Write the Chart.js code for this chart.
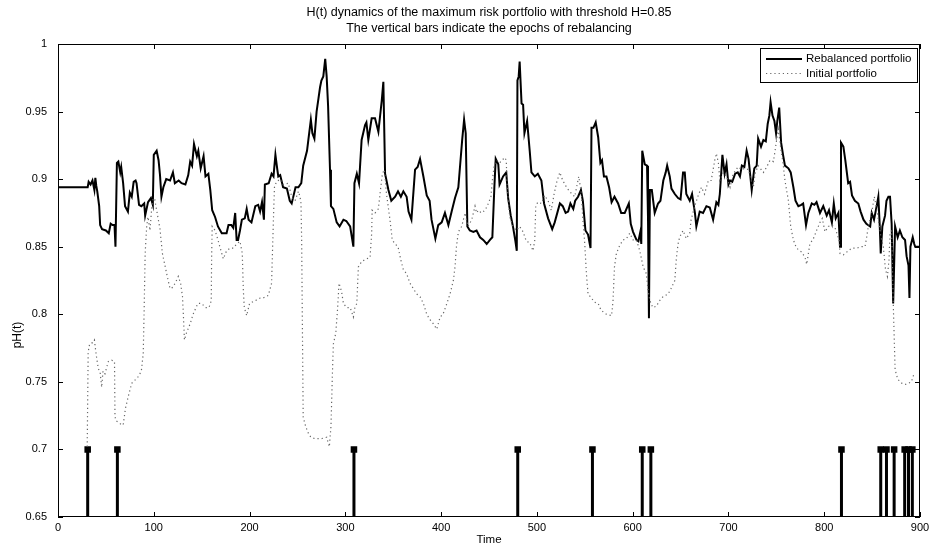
<!DOCTYPE html>
<html>
<head>
<meta charset="utf-8">
<script src="https://cdn.jsdelivr.net/npm/chart.js@4.4.1/dist/chart.umd.min.js"></script>
<style>
  html, body { margin: 0; padding: 0; background: #fff; }
  #wrap { width: 931px; height: 547px; }
</style>
</head>
<body>
<div id="wrap"><canvas id="hChart" width="931" height="547"></canvas></div>
<script>
const TITLE_LINES = [
  "H(t) dynamics of the maximum risk portfolio with threshold H=0.85",
  "The vertical bars indicate the epochs of rebalancing",
];
const SERIES_LABELS = ["Rebalanced portfolio", "Initial portfolio"];

const X_TICKS = [0, 100, 200, 300, 400, 500, 600, 700, 800, 900];
const Y_TICKS = [0.65, 0.7, 0.75, 0.8, 0.85, 0.9, 0.95, 1];

// rebalanced portfolio (solid)
const rebTime = [
  0, 31, 32, 34, 36, 38, 39, 40, 41, 43, 44, 46, 50, 53, 55, 57, 59, 60, 61.5, 63,
  65, 66, 68, 70, 73, 75, 77, 79, 81, 82, 84.6, 87, 90, 91, 94, 97, 99, 100, 103, 105,
  106.5, 108, 110, 113, 117, 120, 122, 126, 129, 133, 136, 138, 140, 142, 145, 146.5, 149, 152, 154, 157,
  159, 161, 164, 167, 171, 176, 178, 181, 183, 185, 186.5, 188, 190, 192, 195, 197, 199, 202, 206, 209,
  211, 213, 215, 216, 220, 223, 225, 227, 229, 230, 232, 235, 239, 242, 244, 246, 248, 251, 254, 256,
  260, 261.4, 264, 265.6, 267.7, 270, 272, 273.6, 275, 277, 279, 280.5, 282, 284, 285, 287.5, 291, 294, 298, 301,
  305, 308.4, 309.5, 312, 314.3, 317, 320.6, 322, 324, 327.5, 331, 334.5, 338, 339.7, 341.5, 345, 348, 352, 355, 358,
  360.6, 364, 366, 369, 372.8, 375.5, 378, 381.5, 385, 388, 390, 394, 397, 400.6, 404, 407.6, 411, 414.5, 418, 419.7,
  422, 424, 425.7, 427.4, 430, 433.7, 437, 440.6, 444, 447.6, 451, 453.5, 455.6, 457, 459.7, 461, 464.7, 468, 470, 472.7,
  475, 477.6, 479, 479.7, 481, 482, 484, 485.6, 487, 489.8, 492.5, 494.3, 497.8, 501, 504.7, 507.5, 511.7, 516, 518.6, 524,
  527, 530, 532.6, 535, 538, 540, 543, 546, 548, 550.7, 553.4, 556, 557, 559, 561.4, 564, 566.3, 568, 570, 572.6,
  575.4, 578, 581, 584.8, 588, 591.7, 596, 598, 600.4, 604, 606, 608, 609, 610, 612.6, 615, 616, 617, 618, 620,
  623, 626.5, 629, 632, 634.5, 636, 638.7, 640.5, 644, 647.4, 650, 652.6, 654.4, 656, 659.6, 662, 665, 666.5, 670, 673.5,
  677, 680.5, 684, 687.4, 689.5, 691, 693.7, 696, 698, 700, 701.7, 704, 707, 709.7, 712, 714, 716.6, 719, 721, 724.3,
  727, 729.5, 731, 734, 736.5, 739, 741, 742.7, 744, 746, 748, 749.7, 751, 753, 755, 757, 759, 762.6, 765, 767.8,
  770, 773, 776, 778, 781, 783.4, 787, 789.7, 792, 795.6, 799, 802.6, 805, 808, 810, 812, 814.8, 816.5, 817.5, 820,
  822, 825, 827, 829, 832, 835.6, 838, 841, 844, 848, 849.6, 852, 855, 856.5, 858, 859, 860.7, 863.5, 865, 867,
  868.7, 870.4, 872, 874, 876.7, 879, 881.6, 884.4, 886, 888, 889, 890, 892.4, 894, 895, 900,
];
const rebValue = [
  0.894, 0.894, 0.898, 0.896, 0.899, 0.892, 0.901, 0.895, 0.891, 0.88, 0.866, 0.863, 0.862, 0.86, 0.867, 0.866, 0.866, 0.85, 0.912, 0.913,
  0.905, 0.909, 0.897, 0.88, 0.876, 0.89, 0.887, 0.898, 0.899, 0.897, 0.881, 0.88, 0.882, 0.873, 0.883, 0.886, 0.881, 0.918, 0.921, 0.914,
  0.903, 0.887, 0.894, 0.9, 0.899, 0.905, 0.897, 0.899, 0.897, 0.896, 0.903, 0.913, 0.91, 0.926, 0.917, 0.921, 0.908, 0.917, 0.902, 0.904,
  0.892, 0.877, 0.872, 0.865, 0.86, 0.86, 0.866, 0.866, 0.864, 0.875, 0.855, 0.855, 0.862, 0.87, 0.871, 0.878, 0.87, 0.868, 0.88, 0.881,
  0.876, 0.883, 0.87, 0.896, 0.897, 0.904, 0.902, 0.918, 0.907, 0.902, 0.903, 0.894, 0.893, 0.884, 0.882, 0.888, 0.894, 0.894, 0.897, 0.91,
  0.921, 0.929, 0.944, 0.934, 0.93, 0.95, 0.96, 0.968, 0.973, 0.976, 0.989, 0.976, 0.954, 0.907, 0.88, 0.878, 0.868, 0.865, 0.87, 0.869,
  0.865, 0.85, 0.897, 0.904, 0.897, 0.929, 0.94, 0.942, 0.929, 0.945, 0.945, 0.935, 0.958, 0.972, 0.904, 0.892, 0.884, 0.887, 0.891, 0.887,
  0.891, 0.887, 0.876, 0.87, 0.907, 0.909, 0.915, 0.902, 0.888, 0.884, 0.87, 0.856, 0.866, 0.868, 0.875, 0.866, 0.876, 0.886, 0.894, 0.909,
  0.929, 0.944, 0.934, 0.865, 0.862, 0.861, 0.862, 0.857, 0.855, 0.852, 0.855, 0.857, 0.894, 0.915, 0.911, 0.896, 0.902, 0.905, 0.886, 0.873,
  0.865, 0.854, 0.847, 0.973, 0.976, 0.987, 0.956, 0.955, 0.934, 0.943, 0.921, 0.905, 0.902, 0.904, 0.899, 0.882, 0.871, 0.863, 0.868, 0.882,
  0.88, 0.875, 0.876, 0.882, 0.878, 0.884, 0.887, 0.892, 0.884, 0.862, 0.859, 0.849, 0.938, 0.938, 0.942, 0.931, 0.912, 0.914, 0.902, 0.902,
  0.894, 0.883, 0.887, 0.882, 0.875, 0.875, 0.882, 0.867, 0.861, 0.855, 0.854, 0.861, 0.852, 0.921, 0.911, 0.91, 0.872, 0.797, 0.892, 0.892,
  0.875, 0.882, 0.884, 0.899, 0.905, 0.91, 0.902, 0.893, 0.889, 0.886, 0.885, 0.905, 0.905, 0.889, 0.884, 0.889, 0.875, 0.865, 0.876, 0.875,
  0.88, 0.879, 0.87, 0.883, 0.881, 0.889, 0.918, 0.904, 0.911, 0.896, 0.899, 0.898, 0.904, 0.905, 0.902, 0.91, 0.909, 0.921, 0.915, 0.892,
  0.908, 0.91, 0.93, 0.924, 0.929, 0.928, 0.941, 0.947, 0.957, 0.947, 0.943, 0.934, 0.943, 0.953, 0.927, 0.918, 0.91, 0.908, 0.905, 0.894,
  0.884, 0.88, 0.881, 0.882, 0.866, 0.875, 0.882, 0.881, 0.883, 0.875, 0.88, 0.873, 0.877, 0.868, 0.882, 0.871, 0.875, 0.85, 0.927, 0.924,
  0.914, 0.897, 0.898, 0.888, 0.884, 0.882, 0.876, 0.87, 0.867, 0.865, 0.875, 0.87, 0.881, 0.887, 0.865, 0.845, 0.865, 0.873, 0.884, 0.887,
  0.887, 0.867, 0.808, 0.865, 0.857, 0.862, 0.857, 0.855, 0.843, 0.836, 0.812, 0.85, 0.857, 0.852, 0.85, 0.85,
];

// initial portfolio (dotted)
const initTime = [
  30.5, 31.5, 33, 36, 38, 39.7, 42, 44, 45.6, 47, 49, 52.5, 56, 59, 59.5, 61, 65, 68, 70.6, 74,
  77, 80, 84, 87, 89, 90, 91, 92.6, 94, 96, 98, 99.5, 101, 103, 106.5, 109, 112, 115, 117, 120,
  123, 125.6, 128, 130, 131, 132, 134, 138, 141, 146, 150, 154, 157.6, 160, 160.4, 161, 164, 167, 171, 172.6,
  176, 180, 183, 186.5, 190, 192.4, 193.5, 194.5, 197, 200, 205.7, 211, 214, 219.6, 223, 225, 226, 228, 230, 232,
  235, 240.5, 244, 247.5, 251, 252.7, 253.7, 254.4, 255, 256, 258.6, 261.4, 264, 268, 275, 280.5, 283.3, 285, 286.5, 287.5,
  290, 292, 293.4, 296, 298, 301.4, 305, 308.4, 310, 312, 313.6, 317, 322, 325.8, 327.5, 328, 331, 334.5, 337, 338.7,
  340.7, 343, 346.6, 349, 352, 355, 358, 360.6, 364, 367.5, 371, 374.5, 378, 381.5, 385, 388.4, 391.9, 395.4, 399, 402,
  406, 409.3, 412.8, 414.5, 416, 418, 421.5, 425, 428, 432, 435.4, 437, 439, 442, 446, 449.3, 452, 453.5, 455.6, 458,
  461, 466.4, 468, 469, 471.7, 475, 478.6, 482, 485.6, 489, 492.5, 496, 497.8, 498.8, 501, 504.7, 508, 511.7, 515, 518,
  520.4, 524, 527, 531, 534, 539.5, 543.7, 546.5, 548, 550, 551.7, 553.4, 557, 560, 564, 567, 572.6, 578, 579.5, 581,
  583, 586.5, 590, 593.5, 597, 600.4, 604, 607.4, 611, 614.3, 616, 618, 621, 624.8, 628, 631.7, 637, 640, 644, 645.7,
  647.4, 649, 652.6, 656, 659.6, 661, 664.8, 668, 671.8, 675, 679, 682, 685.7, 687.4, 689.5, 691, 694.7, 698, 701.7, 705,
  710, 714, 717, 721, 722.5, 726, 727.8, 731, 736.5, 740, 743.4, 747, 749.7, 752, 755, 757, 759, 762.6, 765, 767.8,
  771, 776.5, 780, 781.7, 785, 788.7, 792, 795.6, 798, 800.8, 804.3, 808, 811.3, 815.5, 816.5, 820, 823.5, 828.7, 834, 839,
  842.6, 844.3, 846, 849.6, 852.3, 854.8, 856.5, 859.3, 861.7, 864, 866, 867.6, 868.7, 870.4, 872, 874, 876.7, 881, 884.4, 888,
  891, 893.8,
];
const initValue = [
  0.702, 0.772, 0.778, 0.779, 0.781, 0.771, 0.76, 0.757, 0.746, 0.758, 0.756, 0.765, 0.766, 0.765, 0.724, 0.721, 0.719, 0.718, 0.731, 0.741,
  0.749, 0.751, 0.754, 0.758, 0.771, 0.805, 0.845, 0.865, 0.872, 0.862, 0.88, 0.886, 0.885, 0.877, 0.863, 0.845, 0.835, 0.825, 0.819, 0.82,
  0.824, 0.828, 0.823, 0.813, 0.798, 0.781, 0.786, 0.793, 0.8, 0.808, 0.808, 0.805, 0.805, 0.81, 0.842, 0.865, 0.862, 0.855, 0.845, 0.841,
  0.847, 0.849, 0.849, 0.852, 0.854, 0.845, 0.818, 0.805, 0.799, 0.808, 0.81, 0.812, 0.812, 0.814, 0.823, 0.872, 0.894, 0.898, 0.899, 0.9,
  0.896, 0.897, 0.887, 0.884, 0.891, 0.887, 0.882, 0.855, 0.805, 0.724, 0.717, 0.712, 0.709, 0.708, 0.708, 0.709, 0.702, 0.717, 0.756, 0.778,
  0.786, 0.805, 0.823, 0.817, 0.808, 0.805, 0.805, 0.798, 0.805, 0.808, 0.835, 0.839, 0.841, 0.842, 0.86, 0.877, 0.875, 0.878, 0.894, 0.904,
  0.907, 0.889, 0.87, 0.855, 0.852, 0.85, 0.84, 0.833, 0.83, 0.823, 0.819, 0.815, 0.813, 0.808, 0.8, 0.796, 0.793, 0.789, 0.798, 0.8,
  0.808, 0.815, 0.825, 0.835, 0.85, 0.861, 0.865, 0.875, 0.865, 0.87, 0.88, 0.875, 0.877, 0.875, 0.877, 0.882, 0.887, 0.899, 0.911, 0.914,
  0.912, 0.916, 0.914, 0.894, 0.872, 0.865, 0.862, 0.865, 0.861, 0.854, 0.853, 0.847, 0.855, 0.88, 0.883, 0.882, 0.888, 0.884, 0.877, 0.889,
  0.897, 0.905, 0.899, 0.894, 0.891, 0.887, 0.902, 0.889, 0.87, 0.852, 0.83, 0.815, 0.812, 0.809, 0.808, 0.803, 0.8, 0.799, 0.81, 0.835,
  0.845, 0.851, 0.855, 0.856, 0.86, 0.855, 0.855, 0.847, 0.835, 0.83, 0.818, 0.81, 0.805, 0.806, 0.81, 0.813, 0.815, 0.819, 0.825, 0.842,
  0.852, 0.857, 0.862, 0.856, 0.86, 0.87, 0.88, 0.887, 0.894, 0.889, 0.899, 0.899, 0.914, 0.919, 0.912, 0.899, 0.905, 0.902, 0.894, 0.904,
  0.909, 0.907, 0.908, 0.907, 0.902, 0.894, 0.904, 0.91, 0.905, 0.909, 0.914, 0.913, 0.926, 0.937, 0.921, 0.912, 0.899, 0.884, 0.865, 0.855,
  0.849, 0.846, 0.842, 0.837, 0.852, 0.856, 0.862, 0.868, 0.871, 0.861, 0.865, 0.866, 0.864, 0.855, 0.845, 0.844, 0.846, 0.849, 0.849, 0.85,
  0.85, 0.857, 0.865, 0.875, 0.887, 0.878, 0.87, 0.857, 0.85, 0.833, 0.828, 0.84, 0.86, 0.862, 0.81, 0.759, 0.752, 0.749, 0.748, 0.749,
  0.75, 0.756,
];

// rebalancing epochs, drawn as bars from BAR_LOW to BAR_HIGH
const rebalanceEpochs = [31, 62, 309, 480, 558, 610, 619, 818, 859, 865, 873, 884, 888, 892];
const BAR_LOW = 0.65;
const BAR_HIGH = 0.7;

function toPoints(xs, ys) {
  return xs.map((x, i) => ({ x: x, y: ys[i] }));
}

function barPoints() {
  const pts = [];
  rebalanceEpochs.forEach((t) => {
    pts.push({ x: t, y: BAR_LOW });
    pts.push({ x: t, y: BAR_HIGH });
    pts.push({ x: t, y: null });
  });
  return pts;
}

const FONT = "'Liberation Sans', Arial, Helvetica, sans-serif";

// box, inward ticks, titles and legend the matlab way
const matlabFramePlugin = {
  id: "matlabFrame",
  afterDraw(chart) {
    const { ctx, chartArea: a, scales } = chart;
    const tick = 5;
    ctx.save();
    ctx.strokeStyle = "#000";
    ctx.lineWidth = 1;
    ctx.strokeRect(a.left + 0.5, a.top + 0.5, a.right - a.left - 1, a.bottom - a.top - 1);

    ctx.beginPath();
    X_TICKS.forEach((v) => {
      const px = Math.round(scales.x.getPixelForValue(v)) + 0.5;
      ctx.moveTo(px, a.bottom); ctx.lineTo(px, a.bottom - tick);
      ctx.moveTo(px, a.top); ctx.lineTo(px, a.top + tick);
    });
    Y_TICKS.forEach((v) => {
      const py = Math.round(scales.y.getPixelForValue(v)) + 0.5;
      ctx.moveTo(a.left, py); ctx.lineTo(a.left + tick, py);
      ctx.moveTo(a.right, py); ctx.lineTo(a.right - tick, py);
    });
    ctx.stroke();

    // title
    ctx.fillStyle = "#000";
    ctx.font = "12.5px " + FONT;
    ctx.textAlign = "center";
    ctx.textBaseline = "middle";
    const cx = (a.left + a.right) / 2;
    ctx.fillText(TITLE_LINES[0], cx, 13);
    ctx.fillText(TITLE_LINES[1], cx, 29);

    // y label
    ctx.save();
    ctx.translate(18, 335);
    ctx.rotate(-Math.PI / 2);
    ctx.font = "12px " + FONT;
    ctx.fillText("pH(t)", 0, 0);
    ctx.restore();

    // legend
    const lx = 760, ly = 48, lw = 157, lh = 34;
    ctx.fillStyle = "#fff";
    ctx.fillRect(lx, ly, lw, lh);
    ctx.strokeRect(lx + 0.5, ly + 0.5, lw, lh);
    ctx.strokeStyle = "#000";
    ctx.lineWidth = 2;
    ctx.beginPath();
    ctx.moveTo(766, 59); ctx.lineTo(802, 59);
    ctx.stroke();
    ctx.strokeStyle = "#666";
    ctx.lineWidth = 1.2;
    ctx.setLineDash([1.2, 3]);
    ctx.beginPath();
    ctx.moveTo(766, 73.5); ctx.lineTo(802, 73.5);
    ctx.stroke();
    ctx.setLineDash([]);
    ctx.fillStyle = "#000";
    ctx.font = "11.5px " + FONT;
    ctx.textAlign = "left";
    ctx.fillText(SERIES_LABELS[0], 806, 59);
    ctx.fillText(SERIES_LABELS[1], 806, 74);
    ctx.restore();
  },
};

const ctx = document.getElementById("hChart").getContext("2d");

new Chart(ctx, {
  type: "scatter",
  data: {
    datasets: [
      {
        label: SERIES_LABELS[1],
        data: toPoints(initTime, initValue),
        showLine: true,
        borderColor: "#666",
        borderWidth: 1.2,
        borderDash: [1.2, 3],
        pointRadius: 0,
        tension: 0,
      },
      {
        label: SERIES_LABELS[0],
        data: toPoints(rebTime, rebValue),
        showLine: true,
        borderColor: "#000",
        borderWidth: 2,
        pointRadius: 0,
        tension: 0,
      },
      {
        label: "epochs",
        data: barPoints(),
        showLine: true,
        spanGaps: false,
        borderColor: "#000",
        borderWidth: 3,
        pointStyle: "rect",
        pointRadius: (c) => (c.raw && c.raw.y === BAR_HIGH ? 2.5 : 0),
        pointBackgroundColor: "#000",
        pointBorderColor: "#000",
      },
    ],
  },
  options: {
    responsive: false,
    animation: false,
    events: [],
    layout: { padding: { top: 44, right: 11, left: 0, bottom: 0 } },
    plugins: {
      legend: { display: false },
      tooltip: { enabled: false },
      title: { display: false },
    },
    scales: {
      x: {
        type: "linear",
        min: 0,
        max: 900,
        afterBuildTicks: (s) => { s.ticks = X_TICKS.map((v) => ({ value: v })); },
        afterFit: (s) => { s.height = 30; },
        grid: { display: false },
        border: { display: false },
        ticks: {
          color: "#000",
          font: { family: FONT, size: 11 },
          padding: -4,
          maxRotation: 0,
        },
        title: {
          display: true,
          text: "Time",
          color: "#000",
          font: { family: FONT, size: 11.5 },
          padding: { top: -2, bottom: 0 },
        },
      },
      y: {
        type: "linear",
        min: 0.65,
        max: 1,
        afterBuildTicks: (s) => { s.ticks = Y_TICKS.map((v) => ({ value: v })); },
        afterFit: (s) => { s.width = 58; },
        grid: { display: false },
        border: { display: false },
        ticks: {
          color: "#000",
          font: { family: FONT, size: 11 },
          padding: 3,
          callback: (v) => String(Math.round(v * 100) / 100),
        },
      },
    },
  },
  plugins: [matlabFramePlugin],
});
</script>
</body>
</html>
